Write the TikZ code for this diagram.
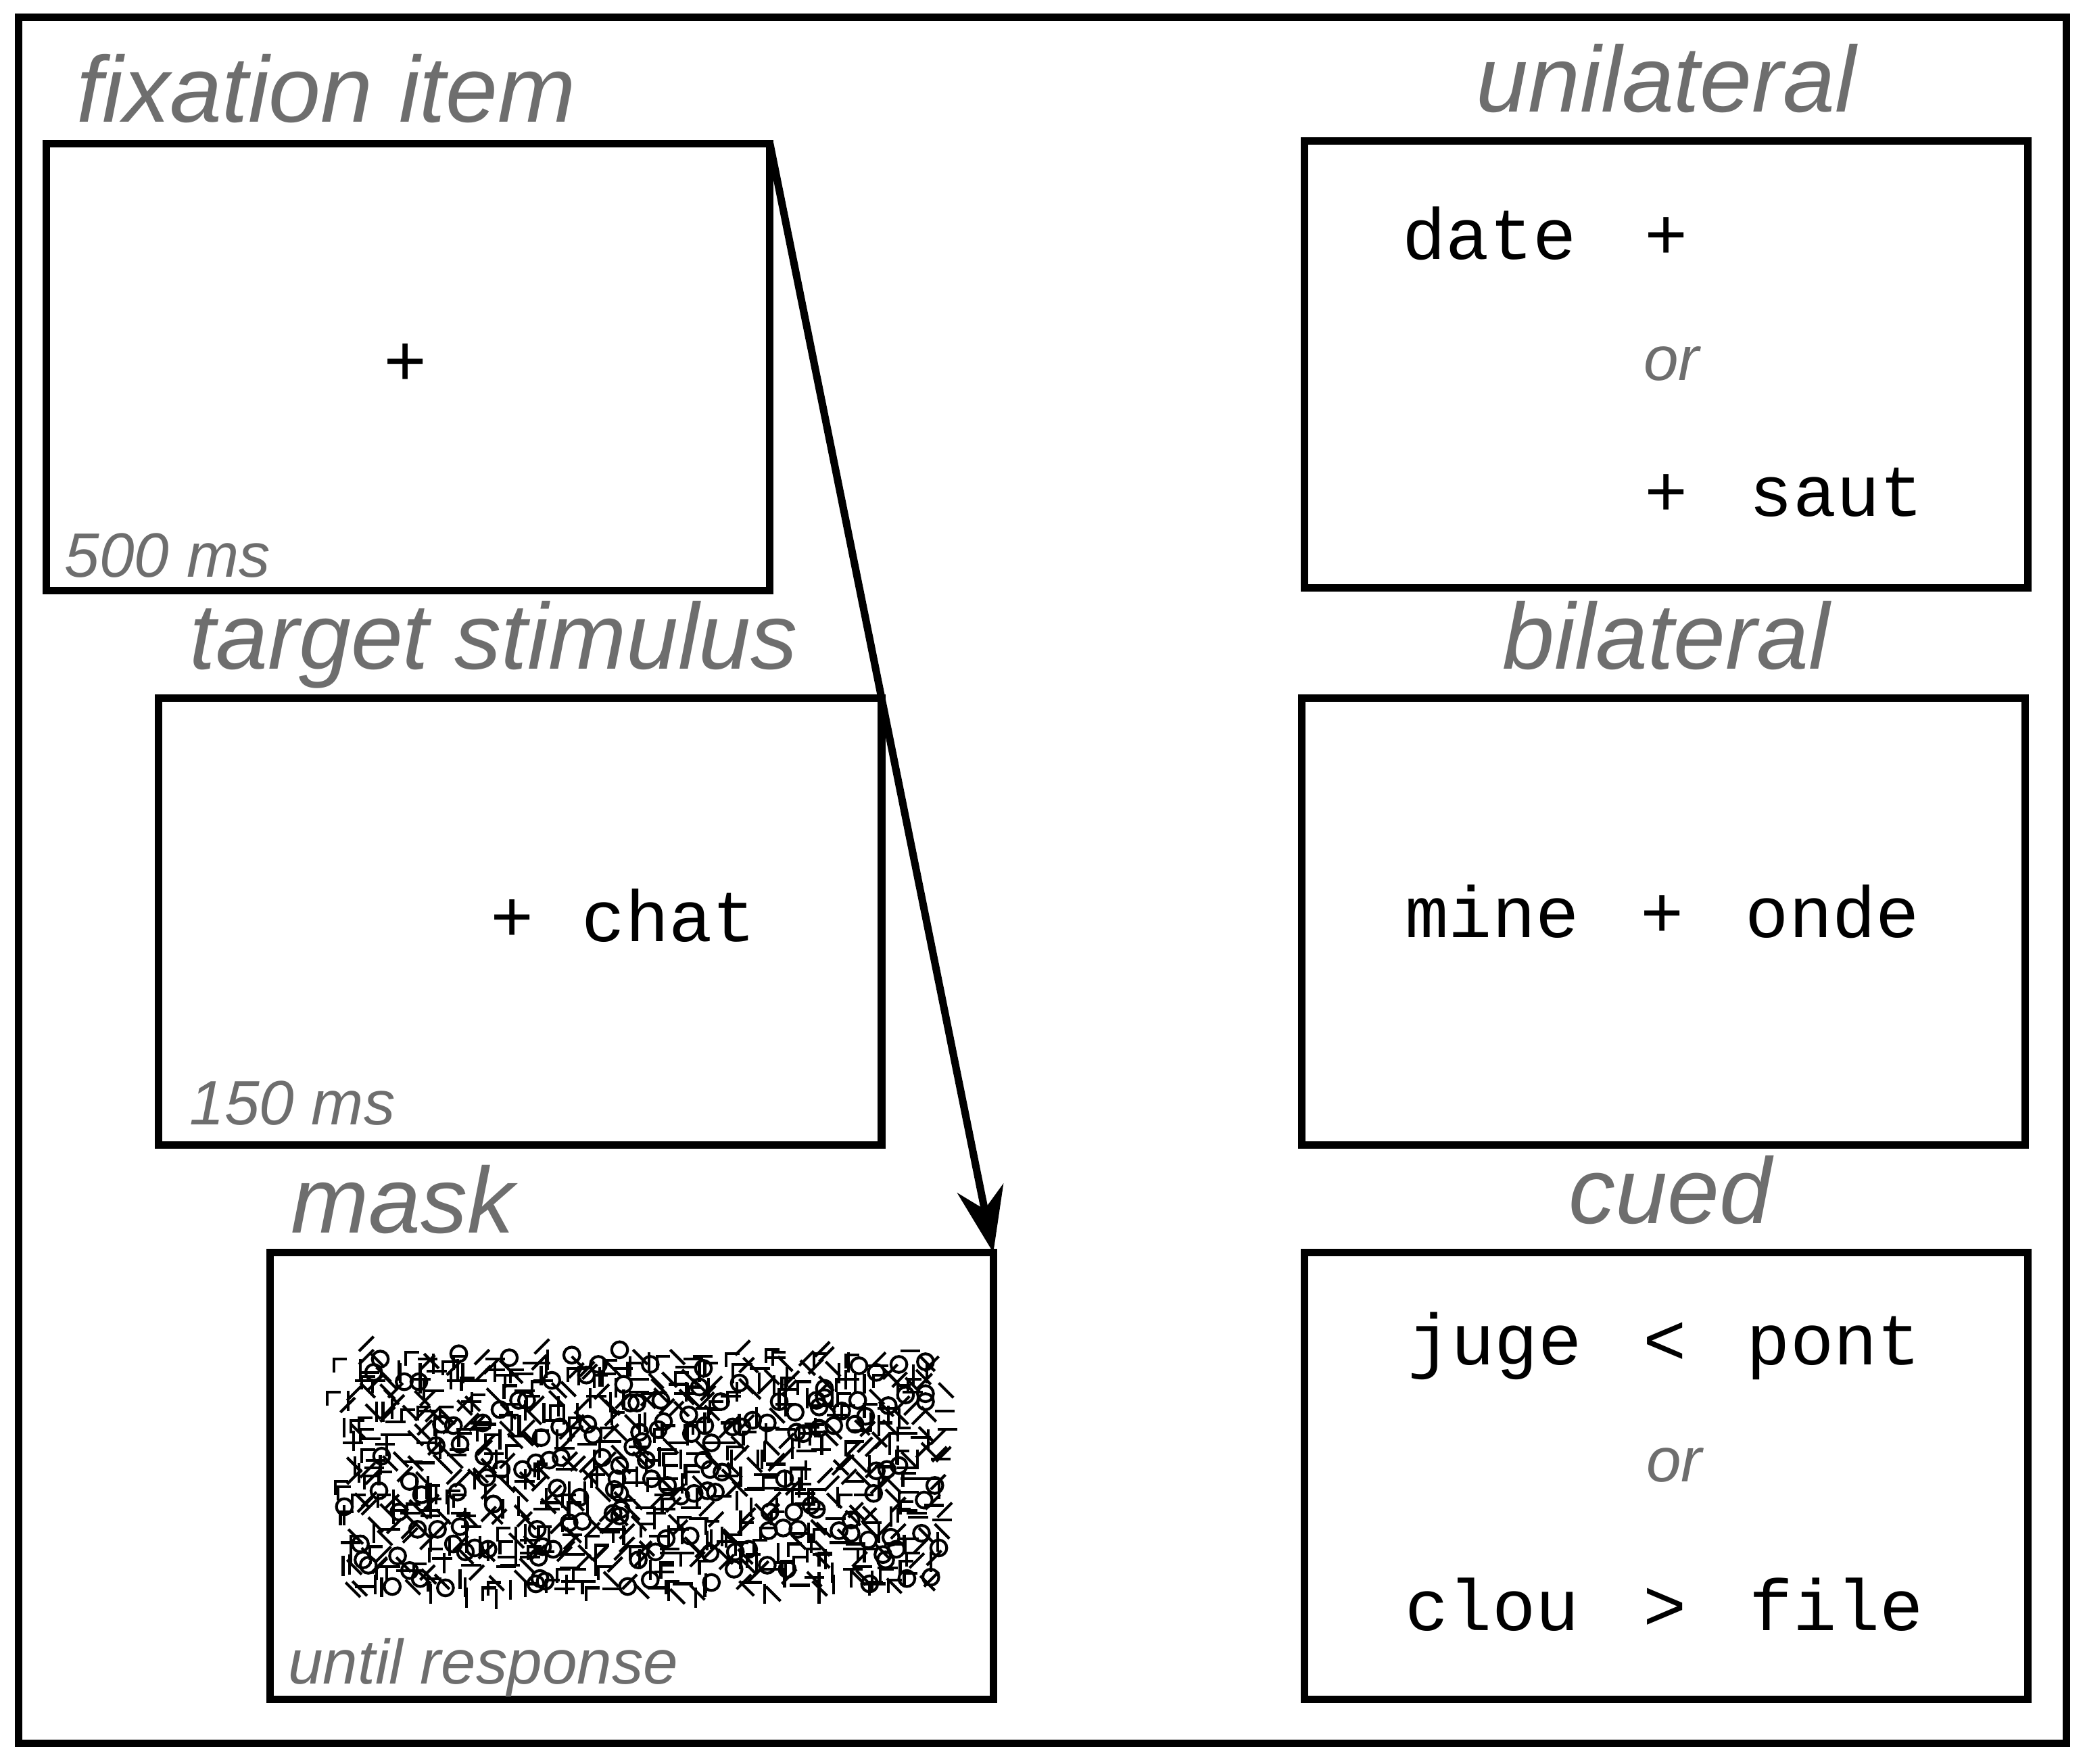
\documentclass[tikz,border=0pt]{standalone}
\usepackage{fontspec}
\setmainfont{Liberation Sans}
\newfontfamily\monof{Liberation Mono}
\usetikzlibrary{arrows.meta}
\definecolor{tgray}{RGB}{110,110,110}
\begin{document}
\begin{tikzpicture}[x=0.01cm,y=-0.01cm,
  box/.style={draw,line width=1.6pt},
  title/.style={inner sep=0,text=tgray,font=\fontsize{20}{24}\selectfont\itshape},
  small/.style={inner sep=0,text=tgray,font=\fontsize{13.4}{16}\selectfont\itshape},
  mono/.style={inner sep=0,font=\fontsize{15.5}{18}\selectfont\monof}]
\useasboundingbox (0,0) rectangle (1568,1326);
\draw[line width=1.6pt] (14,13) rectangle (1554,1311);
% left column
\draw[box] (35,108) rectangle (579,444);
\coordinate (fixTR) at (579,108);
\node[title,anchor=base west] (t1) at (57,92) {fixation item};
\node[mono,anchor=base] (p1) at (305,290) {+};
\node[small,anchor=base west] (l1) at (48,434) {500 ms};
\draw[box] (119,525) rectangle (663,861);
\node[title,anchor=base west] (t2) at (142,503) {target stimulus};
\node[mono,anchor=base] (p2) at (385,708) {+};
\node[mono,anchor=base west] (w2) at (437,708) {chat};
\node[small,anchor=base west] (l2) at (142,846) {150 ms};
\draw[box] (203,942) rectangle (747,1278);
\coordinate (maskTR) at (747,942);
\node[title,anchor=base west] (t3) at (218,927) {mask};
\node[small,anchor=base west] (l3) at (216,1266) {until response};
\draw[line width=1.6pt,-{Stealth[length=14pt,width=10pt]}] (fixTR) -- (maskTR);
% mask pattern
\pgfmathsetseed{7}
\begin{scope}[line width=0.6pt]
\foreach \i in {0,...,29}{
 \foreach \j in {0,...,11}{
  \pgfmathsetmacro{\xx}{256+\i*15}
  \pgfmathsetmacro{\yy}{1015+\j*15}
  \foreach \k in {1,2,3}{
   \pgfmathsetmacro{\a}{int(random(0,5))}
   \pgfmathsetmacro{\ox}{\xx+random(0,15)}
   \pgfmathsetmacro{\oy}{\yy+random(0,15)}
   \ifcase\a
     \draw (\ox,\oy) -- ++(15,0);
   \or \draw (\ox,\oy) -- ++(0,15);
   \or \draw (\ox,\oy) -- ++(11,11);
   \or \draw (\ox,\oy) -- ++(11,-11);
   \or \draw (\ox,\oy) circle (6);
   \else \draw (\ox,\oy) -- ++(-10,0) -- ++(0,10);
   \fi
  }
 }
}
\end{scope}
% right column
\draw[box] (981,106) rectangle (1525,442);
\node[title,anchor=base] (t4) at (1253,84) {unilateral};
\node[mono,anchor=base west] (w4a) at (1054,195) {date};
\node[mono,anchor=base] (p4a) at (1253,195) {+};
\node[small,anchor=base] (o4) at (1257,286) {or};
\node[mono,anchor=base] (p4b) at (1253,388) {+};
\node[mono,anchor=base west] (w4b) at (1315,388) {saut};
\draw[box] (979,525) rectangle (1523,861);
\node[title,anchor=base] (t5) at (1253,503) {bilateral};
\node[mono,anchor=base west] (w5a) at (1056,705) {mine};
\node[mono,anchor=base] (p5) at (1250,705) {+};
\node[mono,anchor=base west] (w5b) at (1312,705) {onde};
\draw[box] (981,942) rectangle (1525,1278);
\node[title,anchor=base] (t6) at (1256,920) {cued};
\node[mono,anchor=base west] (w6a) at (1058,1026) {juge};
\node[mono,anchor=base] (c6a) at (1252,1026) {<};
\node[mono,anchor=base west] (w6b) at (1313,1026) {pont};
\node[small,anchor=base] (o6) at (1259,1114) {or};
\node[mono,anchor=base west] (w6c) at (1056,1226) {clou};
\node[mono,anchor=base] (c6b) at (1252,1226) {>};
\node[mono,anchor=base west] (w6d) at (1315,1226) {file};
\end{tikzpicture}
\end{document}
